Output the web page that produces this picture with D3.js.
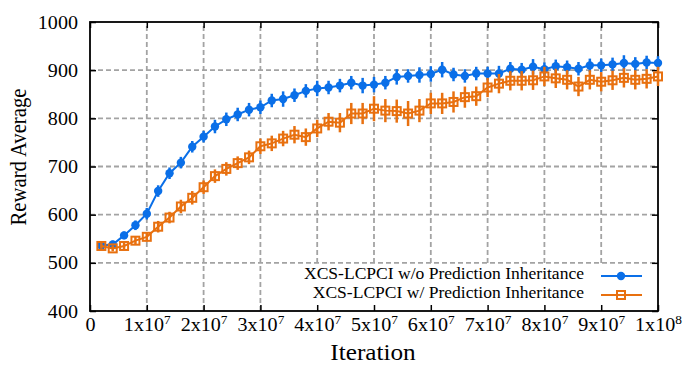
<!DOCTYPE html>
<html>
<head>
<meta charset="utf-8">
<script src="https://cdn.jsdelivr.net/npm/d3@7"></script>
<style>
  body { margin: 0; background: #fff; }
  svg { display: block; }
</style>
</head>
<body>
<script>
// iteration in units of 1e6
let iters = [2,4,6,8,10,12,14,16,18,20,22,24,26,28,30,32,34,36,38,40,
             42,44,46,48,50,52,54,56,58,60,62,64,66,68,70,72,74,76,78,80,
             82,84,86,88,90,92,94,96,98,100]

let woValues = [536,538,557,578,602,649,686,708,741,762,
                783,798,808,818,823,837,840,848,857,862,
                864,868,874,868,870,874,886,888,890,892,
                901,891,888,893,893,893,903,901,907,902,
                908,906,903,910,910,912,915,913,916,915]
let woErr = [6,8,8,10,12,12,12,12,12,12,
             14,14,14,14,14,14,16,14,14,16,
             14,14,14,16,16,14,16,14,16,16,
             16,14,14,14,14,16,14,14,16,14,
             14,14,14,14,14,14,16,14,14,14]

let wValues = [535,530,535,546,554,575,594,617,635,657,
               680,695,707,719,742,748,758,766,761,779,
               793,791,810,810,820,816,815,810,816,831,
               831,834,844,846,864,872,878,878,879,887,
               883,880,866,880,876,879,884,880,882,887]
let wErr = [6,6,8,8,10,12,12,14,14,14,
            14,14,14,14,16,16,16,18,18,18,
            18,20,22,22,26,24,24,26,24,22,
            22,22,22,20,20,20,20,20,20,20,
            20,20,20,20,20,20,20,20,20,20]

let xTicks = [0,10,20,30,40,50,60,70,80,90,100]
let xTickBase = ["0","1x10","2x10","3x10","4x10","5x10","6x10","7x10","8x10","9x10","1x10"]
let xTickExp = ["","7","7","7","7","7","7","7","7","7","8"]
let yTicks = [400,500,600,700,800,900,1000]

let seriesNames = ["XCS-LCPCI w/o Prediction Inheritance", "XCS-LCPCI w/ Prediction Inheritance"]

let W = 686, H = 365
let margin = {left: 90, right: 28, top: 22, bottom: 54}
let S = 1.07   // slight horizontal stretch of the text in the original
let FONT = "Liberation Serif"
let blue = "#0a6fe8", orange = "#e8700f"

let svg = d3.select("body").append("svg").attr("width", W).attr("height", H)
  .attr("font-family", FONT)

let x = d3.scaleLinear().domain([0, 100]).range([margin.left, W - margin.right])
let y = d3.scaleLinear().domain([400, 1000]).range([H - margin.bottom, margin.top])

// grid
let grid = svg.append("g")
grid.selectAll(".gx").data(xTicks.slice(1, -1)).join("line")
  .attr("x1", d => x(d)).attr("x2", d => x(d))
  .attr("y1", y(400)).attr("y2", y(1000))
grid.selectAll(".gy").data(yTicks.slice(1, -1)).join("line")
  .attr("x1", x(0)).attr("x2", x(100))
  .attr("y1", d => y(d)).attr("y2", d => y(d))
grid.selectAll("line")
  .attr("stroke", "#a3a3a3").attr("stroke-width", 1.8).attr("stroke-dasharray", "5,3")

// legend background hides the grid under it
svg.append("rect").attr("x", 297).attr("y", 265)
  .attr("width", x(100) - 297).attr("height", y(400) - 265).attr("fill", "#fff")

// axes, ticks inward
let ax = svg.append("g").attr("transform", `translate(0,${y(400)})`)
  .call(d3.axisBottom(x).tickValues(xTicks).tickSizeInner(-6).tickSizeOuter(0))
ax.selectAll("text").each(function(d, i) {
  let t = d3.select(this).text(null)
    .attr("y", 20.5).attr("dy", 0).attr("font-size", 18.8)
    .attr("font-family", FONT).attr("fill", "#000")
    .attr("transform", `scale(${S},1)`)
  t.append("tspan").text(xTickBase[i])
  if (xTickExp[i]) t.append("tspan").attr("font-size", 12.5).attr("dy", -7.5).text(xTickExp[i])
})
let ay = svg.append("g").attr("transform", `translate(${x(0)},0)`)
  .call(d3.axisLeft(y).tickValues(yTicks).tickFormat(d3.format("d")).tickSizeInner(-6).tickSizeOuter(0))
ay.selectAll("text").attr("font-size", 18.8).attr("font-family", FONT).attr("fill", "#000")
  .attr("x", -12 / S).attr("transform", `scale(${S},1)`)
svg.append("g").attr("transform", `translate(0,${y(1000)})`)
  .call(d3.axisTop(x).tickValues(xTicks).tickSizeInner(-6).tickSizeOuter(0).tickFormat(""))
svg.append("g").attr("transform", `translate(${x(100)},0)`)
  .call(d3.axisRight(y).tickValues(yTicks).tickSizeInner(-6).tickSizeOuter(0).tickFormat(""))
svg.selectAll(".domain").remove()
svg.selectAll(".tick line").attr("stroke", "#000").attr("stroke-width", 1.5)
svg.append("rect").attr("x", x(0)).attr("y", y(1000))
  .attr("width", x(100) - x(0)).attr("height", y(400) - y(1000))
  .attr("fill", "none").attr("stroke", "#000").attr("stroke-width", 1.8)

// titles
svg.append("text").attr("transform", `translate(373,360) scale(${S},1)`)
  .attr("text-anchor", "middle").attr("font-size", 23.6).text("Iteration")
svg.append("text").attr("transform", `translate(26,157) rotate(-90) scale(1,${S})`)
  .attr("text-anchor", "middle").attr("font-size", 20.7).text("Reward Average")

// series
let line = d3.line().x(d => x(d[0])).y(d => y(d[1]))
function drawSeries(vals, errs, color, marker) {
  let pts = iters.map((t, i) => [t, vals[i], errs[i]])
  let g = svg.append("g")
  g.append("path").datum(pts).attr("d", line)
    .attr("fill", "none").attr("stroke", color).attr("stroke-width", 2)
  g.selectAll(".err").data(pts).join("line")
    .attr("x1", d => x(d[0])).attr("x2", d => x(d[0]))
    .attr("y1", d => y(d[1] - d[2])).attr("y2", d => y(d[1] + d[2]))
    .attr("stroke", color).attr("stroke-width", 2.5)
  marker(g.selectAll(".mk").data(pts).enter(), d => x(d[0]), d => y(d[1]))
}
function circleMarker(sel, fx, fy) {
  sel.append("circle").attr("cx", fx).attr("cy", fy).attr("r", 4.2).attr("fill", blue)
}
function squareMarker(sel, fx, fy) {
  sel.append("rect").attr("x", d => fx(d) - 4).attr("y", d => fy(d) - 4)
    .attr("width", 8).attr("height", 8)
    .attr("fill", "none").attr("stroke", orange).attr("stroke-width", 2)
}
drawSeries(woValues, woErr, blue, circleMarker)
drawSeries(wValues, wErr, orange, squareMarker)

// legend
let leg = svg.append("g")
let legRows = [{name: seriesNames[0], color: blue, y: 276, mk: circleMarker},
               {name: seriesNames[1], color: orange, y: 295, mk: squareMarker}]
legRows.forEach(r => {
  leg.append("text").attr("transform", `translate(584,${r.y + 2.5}) scale(${S},1)`)
    .attr("text-anchor", "end").attr("font-size", 16.4).text(r.name)
  leg.append("line").attr("x1", 601).attr("x2", 642).attr("y1", r.y).attr("y2", r.y)
    .attr("stroke", r.color).attr("stroke-width", 2)
  r.mk(leg.selectAll(null).data([0]).enter(), () => 621, () => r.y)
})
</script>
</body>
</html>
